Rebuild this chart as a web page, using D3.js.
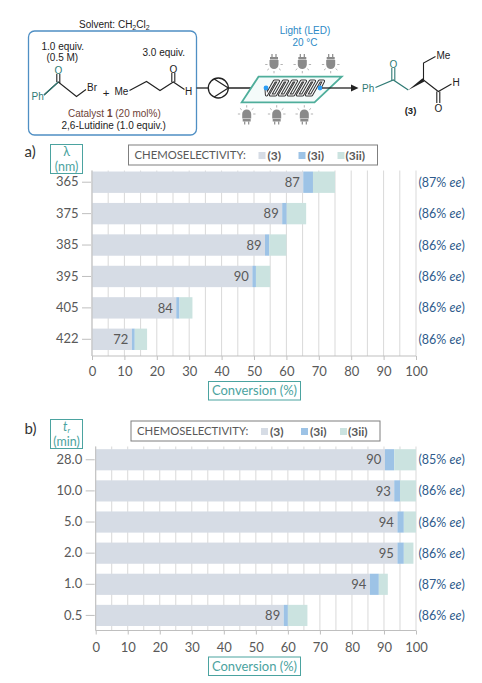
<!DOCTYPE html>
<html>
<head>
<meta charset="utf-8">
<script src="https://cdn.jsdelivr.net/npm/d3@7"></script>
<style>
  body { margin: 0; background: #fff; }
  svg { display: block; }
  .sch { font-family: "Liberation Sans", Arial, sans-serif; }
  .chart text { font-family: Lato, "Open Sans", sans-serif; }
</style>
</head>
<body>
<script>
// ---- datos ----
var lambdaCats = ["365", "375", "385", "395", "405", "422"];
var lambdaP3   = [65.2, 58.7, 53.4, 49.5, 26.0, 12.3];
var lambdaP3i  = [3.0, 1.4, 1.3, 1.1, 1.0, 0.9];
var lambdaP3ii = [6.8, 6.0, 5.3, 4.4, 4.0, 3.8];
var lambdaSel  = [87, 89, 89, 90, 84, 72];
var lambdaEe   = [87, 86, 86, 86, 86, 86];

var timeCats = ["28.0", "10.0", "5.0", "2.0", "1.0", "0.5"];
var timeP3   = [90.3, 93.2, 94.2, 94.2, 85.6, 58.7];
var timeP3i  = [2.9, 1.8, 2.0, 2.0, 2.8, 1.3];
var timeP3ii = [6.8, 5.0, 3.8, 3.0, 2.8, 6.1];
var timeSel  = [90, 93, 94, 95, 94, 89];
var timeEe   = [85, 86, 86, 86, 87, 86];

var convTicks = [0, 10, 20, 30, 40, 50, 60, 70, 80, 90, 100];
var gridTicks = d3.range(0, 101, 5);
var seriesKeys = ["p3", "p3i", "p3ii"];
var seriesNames = ["(3)", "(3i)", "(3ii)"];

var width = 482;
var height = 683;

var colores = {
    p3: "#d6dce5",
    p3i: "#9dc3e6",
    p3ii: "#cbe3e0"
};
var teal = "#4ba3a0";
var gris = "#595959";

var svg = d3.select("body")
    .append("svg")
    .attr("width", width)
    .attr("height", height);

// ---------------- esquema de reaccion ----------------
var sch = svg.append("g").attr("class", "sch");

function linea(g, pts, color, w) {
    g.append("path")
        .attr("d", d3.line()(pts))
        .attr("fill", "none")
        .attr("stroke", color || "#222")
        .attr("stroke-width", w || 1.1);
}

function texto(g, x, y, t, size, color, anchor) {
    return g.append("text")
        .attr("x", x).attr("y", y)
        .attr("font-size", size || 10)
        .attr("fill", color || "#222")
        .attr("text-anchor", anchor || "start")
        .text(t);
}

// caja de reactivos
sch.append("rect")
    .attr("x", 28.5).attr("y", 31)
    .attr("width", 168).attr("height", 104)
    .attr("rx", 6)
    .attr("fill", "none")
    .attr("stroke", "#4f8fc4")
    .attr("stroke-width", 1.3);

var solv = texto(sch, 79, 27.5, "Solvent: CH", 10);
solv.append("tspan").attr("font-size", 7).attr("dy", 2).text("2");
solv.append("tspan").attr("dy", -2).text("Cl");
solv.append("tspan").attr("font-size", 7).attr("dy", 2).text("2");

texto(sch, 41.5, 49.5, "1.0 equiv.", 10);
texto(sch, 46.5, 60.5, "(0.5 M)", 10);
texto(sch, 142.5, 55.5, "3.0 equiv.", 10);

// fenacil bromuro
var verdeOsc = "#2f7a74";
texto(sch, 31.5, 100, "Ph", 10, verdeOsc);
linea(sch, [[44, 95], [58.3, 82], [76.5, 96.5], [86, 89.5]]);
linea(sch, [[44, 95], [58.3, 82]], verdeOsc);
linea(sch, [[56.8, 82], [56.8, 74]], "#222");
linea(sch, [[59.8, 83], [59.8, 74]], "#222");
texto(sch, 58.3, 73.5, "O", 10, verdeOsc, "middle");
texto(sch, 87, 90.5, "Br", 10);
texto(sch, 106, 97, "+", 11.5, "#222", "middle");

// butanal
texto(sch, 114.5, 94.5, "Me", 10);
linea(sch, [[129.5, 90.5], [146.5, 81.5], [160, 90.5], [173.3, 82], [184.5, 89.5]]);
linea(sch, [[171.8, 82], [171.8, 73]]);
linea(sch, [[174.8, 82], [174.8, 73]]);
texto(sch, 173.3, 72.5, "O", 10, "#222", "middle");
texto(sch, 185, 94.5, "H", 10);

var cat = texto(sch, 68, 116.5, "Catalyst ", 10, "#6e4236");
cat.append("tspan").attr("font-weight", "bold").text("1");
cat.append("tspan").text(" (20 mol%)");
texto(sch, 61.5, 128.5, "2,6-Lutidine (1.0 equiv.)", 10);

// bomba
linea(sch, [[196.5, 88], [208.3, 88]], "#222", 1.3);
sch.append("circle")
    .attr("cx", 218.3).attr("cy", 88).attr("r", 10)
    .attr("fill", "#fff").attr("stroke", "#222").attr("stroke-width", 1.3);
linea(sch, [[214.2, 78.9], [228.3, 88], [214.2, 97.1]], "#222", 1.2);
linea(sch, [[228.3, 88], [266, 88]], "#222", 1.3);

// textos de luz
texto(sch, 305, 34, "Light (LED)", 10, "#2b8ac6", "middle");
texto(sch, 305, 45.5, "20 °C", 10, "#2b8ac6", "middle");

// reactor
sch.append("path")
    .attr("d", "M258.5,76.7 L341.7,76.7 L314.5,102.3 L241.7,102.3 Z")
    .attr("fill", "#f4fbfa")
    .attr("stroke", "#4fae9b")
    .attr("stroke-width", 1.8);

var serp = [[266, 88], [266.5, 95]];
for (var k = 0; k < 6; k++) {
    var bx = 266.5 + 9 * k;
    serp.push([bx + 8, 81]);
    serp.push([bx + 12, 81]);
    if (k < 5) {
        serp.push([bx + 4, 95]);
        serp.push([bx + 9, 95]);
    } else {
        serp.push([320, 88]);
    }
}
var serpD = d3.line()(serp);
sch.append("path").attr("d", serpD).attr("fill", "none")
    .attr("stroke", "#333").attr("stroke-width", 3.2).attr("stroke-linejoin", "round");
sch.append("path").attr("d", serpD).attr("fill", "none")
    .attr("stroke", "#fff").attr("stroke-width", 1.2).attr("stroke-linejoin", "round");
sch.append("circle").attr("cx", 266).attr("cy", 88).attr("r", 2.4).attr("fill", "#2a9df4");
sch.append("circle").attr("cx", 320).attr("cy", 88).attr("r", 2.4).attr("fill", "#2a9df4");

// flecha
linea(sch, [[322, 88], [352, 88]], "#222", 1.3);
sch.append("path").attr("d", "M351,84.5 L358.5,88 L351,91.5 Z").attr("fill", "#222");

// bombillas LED
function bombilla(cx, cy, invertida) {
    var g = sch.append("g")
        .attr("transform", "translate(" + cx + "," + cy + ")" + (invertida ? " scale(1,-1)" : ""));
    var c = "#8a8a8a";
    g.append("line").attr("x1", -2).attr("y1", -8).attr("x2", -2).attr("y2", -5).attr("stroke", c).attr("stroke-width", 1.2);
    g.append("line").attr("x1", 2).attr("y1", -8).attr("x2", 2).attr("y2", -5).attr("stroke", c).attr("stroke-width", 1.2);
    g.append("rect").attr("x", -4).attr("y", -5).attr("width", 8).attr("height", 2.5).attr("fill", c);
    g.append("path").attr("d", "M-4.5,-2 L4.5,-2 L4.5,2.5 A4.5,4.5 0 0 1 -4.5,2.5 Z").attr("fill", c);
    [0, 40, 90, 140, 180].forEach(function (a) {
        var r = a * Math.PI / 180;
        g.append("line")
            .attr("x1", Math.cos(r) * 6.5).attr("y1", 2.5 + Math.sin(r) * 6.5)
            .attr("x2", Math.cos(r) * 8.8).attr("y2", 2.5 + Math.sin(r) * 8.8)
            .attr("stroke", "#aaa").attr("stroke-width", 0.9);
    });
}
[274, 302.3, 330.7].forEach(function (x) { bombilla(x, 62, false); });
[246.7, 276.7, 304.3].forEach(function (x) { bombilla(x, 116.5, true); });

// producto (3)
texto(sch, 362, 92, "Ph", 10, verdeOsc);
linea(sch, [[375.5, 87.5], [393.3, 80], [408.3, 90]], verdeOsc, 1.2);
linea(sch, [[391.8, 80.5], [391.8, 68]], verdeOsc, 1.1);
linea(sch, [[394.8, 80.5], [394.8, 68]], verdeOsc, 1.1);
texto(sch, 393.3, 68, "O", 10, verdeOsc, "middle");
sch.append("path").attr("d", "M408.3,90 L422.6,78.2 L424.4,81.6 Z").attr("fill", "#222");
linea(sch, [[423.5, 80], [423.5, 63], [435.5, 56.5]]);
texto(sch, 436.5, 58.5, "Me", 10);
linea(sch, [[423.5, 80], [438.3, 91.5], [451.5, 84]]);
texto(sch, 452.5, 86, "H", 10);
linea(sch, [[436.8, 91.5], [436.8, 103]]);
linea(sch, [[439.8, 91.5], [439.8, 103]]);
texto(sch, 438.3, 111.5, "O", 10, "#222", "middle");
texto(sch, 410.5, 113.5, "(3)", 9.5, "#222", "middle").attr("font-weight", "bold");

// ---------------- graficos de barras ----------------
function panel(cfg) {
    var g = svg.append("g").attr("class", "chart");

    var datos = cfg.cats.map(function (c, i) {
        return { cat: c, p3: cfg.p3[i], p3i: cfg.p3i[i], p3ii: cfg.p3ii[i], sel: cfg.sel[i], ee: cfg.ee[i] };
    });

    var escalaX = d3.scaleLinear().domain([0, 100]).range([cfg.x0, cfg.x1]);
    var escalaY = d3.scaleBand().domain(cfg.cats).range(cfg.band).paddingInner(0.32).paddingOuter(0.16);

    // rejilla cada 5
    g.selectAll("line.grid")
        .data(gridTicks)
        .join("line")
        .attr("class", "grid")
        .attr("x1", function (d) { return escalaX(d); })
        .attr("x2", function (d) { return escalaX(d); })
        .attr("y1", cfg.gridTop)
        .attr("y2", cfg.axisY)
        .attr("stroke", "#d9d9d9")
        .attr("stroke-width", 1);

    var pila = d3.stack().keys(seriesKeys)(datos);

    g.selectAll("g.serie")
        .data(pila)
        .join("g")
        .attr("class", "serie")
        .attr("fill", function (d) { return colores[d.key]; })
        .selectAll("rect")
        .data(function (d) { return d; })
        .join("rect")
        .attr("x", function (d) { return escalaX(d[0]); })
        .attr("y", function (d) { return escalaY(d.data.cat); })
        .attr("width", function (d) { return escalaX(d[1]) - escalaX(d[0]); })
        .attr("height", escalaY.bandwidth());

    // etiquetas de selectividad
    g.selectAll("text.sel")
        .data(datos)
        .join("text")
        .attr("class", "sel")
        .attr("x", function (d) { return escalaX(d.p3) - 3.5; })
        .attr("y", function (d) { return escalaY(d.cat) + escalaY.bandwidth() / 2; })
        .attr("dy", "0.36em")
        .attr("text-anchor", "end")
        .attr("font-size", 13)
        .attr("fill", gris)
        .text(function (d) { return d.sel; });

    // ee
    var ee = g.selectAll("text.ee")
        .data(datos)
        .join("text")
        .attr("class", "ee")
        .attr("x", 418.5)
        .attr("y", function (d) { return escalaY(d.cat) + escalaY.bandwidth() / 2; })
        .attr("dy", "0.36em")
        .attr("font-size", 12.5)
        .attr("fill", "#2f5b8c");
    ee.append("tspan").text(function (d) { return "(" + d.ee + "% "; });
    ee.append("tspan").attr("font-style", "italic").text("ee");
    ee.append("tspan").text(")");

    // ejes
    var ejeX = d3.axisBottom(escalaX).tickValues(convTicks).tickSize(4).tickPadding(cfg.xPad);
    var gx = g.append("g")
        .attr("transform", "translate(0," + cfg.axisY + ")")
        .call(ejeX);
    gx.select(".domain").attr("stroke", "#bfbfbf").attr("d", "M" + cfg.x0 + ",0H" + cfg.x1);
    gx.selectAll(".tick line").attr("stroke", "#bfbfbf");
    gx.selectAll(".tick text").attr("font-size", 13).attr("fill", gris);

    var ejeY = d3.axisLeft(escalaY).tickSize(10).tickPadding(3.5);
    var gy = g.append("g")
        .attr("transform", "translate(" + cfg.x0 + ",0)")
        .call(ejeY);
    gy.select(".domain").remove();
    gy.selectAll(".tick line").attr("stroke", "#bfbfbf").attr("x2", -10).attr("x1", -1);
    gy.selectAll(".tick text").attr("font-size", 13).attr("fill", gris);
    g.append("line")
        .attr("x1", cfg.x0).attr("x2", cfg.x0)
        .attr("y1", cfg.gridTop).attr("y2", cfg.axisY)
        .attr("stroke", "#bfbfbf");

    // letra del panel
    g.append("text")
        .attr("x", 24.5).attr("y", cfg.letterY)
        .attr("font-size", 15).attr("fill", "#333")
        .text(cfg.letter);

    // caja de la variable
    g.append("rect")
        .attr("x", 50.5).attr("y", cfg.varBox)
        .attr("width", 32).attr("height", 29)
        .attr("fill", "#fff").attr("stroke", teal).attr("stroke-width", 1);
    var l1 = g.append("text")
        .attr("x", 66.5).attr("y", cfg.varBox + 11.5)
        .attr("text-anchor", "middle").attr("font-size", 12.5).attr("fill", teal);
    if (cfg.sub) {
        l1.append("tspan").attr("font-style", "italic").text(cfg.varName);
        l1.append("tspan").attr("font-style", "italic").attr("font-size", 7.5).attr("dy", 1.5).text(cfg.sub);
    } else {
        l1.text(cfg.varName);
    }
    g.append("text")
        .attr("x", 66.5).attr("y", cfg.varBox + 26)
        .attr("text-anchor", "middle").attr("font-size", 12.5).attr("fill", teal)
        .text(cfg.unit);

    // leyenda
    var lx = cfg.legX;
    g.append("rect")
        .attr("x", lx).attr("y", cfg.legY)
        .attr("width", 249).attr("height", 20)
        .attr("fill", "#fff").attr("stroke", "#7f7f7f").attr("stroke-width", 1);
    g.append("text")
        .attr("x", lx + 6).attr("y", cfg.legY + 14)
        .attr("font-size", 11.3).attr("fill", gris)
        .text("CHEMOSELECTIVITY:");
    var offs = [[130, 139], [170, 179], [209, 217]];
    seriesKeys.forEach(function (k, i) {
        g.append("rect")
            .attr("x", lx + offs[i][0]).attr("y", cfg.legY + 7)
            .attr("width", 7).attr("height", 7)
            .attr("fill", colores[k]);
        g.append("text")
            .attr("x", lx + offs[i][1]).attr("y", cfg.legY + 14.5)
            .attr("font-size", 12).attr("font-weight", "bold").attr("fill", gris)
            .text(seriesNames[i]);
    });

    // titulo del eje X
    g.append("rect")
        .attr("x", 208.5).attr("y", cfg.convY)
        .attr("width", 92).attr("height", 18.5)
        .attr("fill", "#fff").attr("stroke", teal).attr("stroke-width", 1);
    g.append("text")
        .attr("x", 254.5).attr("y", cfg.convY + 13.5)
        .attr("text-anchor", "middle").attr("font-size", 13).attr("fill", teal)
        .text("Conversion (%)");
}

panel({
    cats: lambdaCats, p3: lambdaP3, p3i: lambdaP3i, p3ii: lambdaP3ii, sel: lambdaSel, ee: lambdaEe,
    x0: 92, x1: 416, band: [166.5, 355], gridTop: 170.5, axisY: 356, xPad: 6.5,
    letter: "a)", letterY: 157, varBox: 144.5, varName: "λ", unit: "(nm)",
    legX: 128.5, legY: 145, convY: 381.5
});

panel({
    cats: timeCats, p3: timeP3, p3i: timeP3i, p3ii: timeP3ii, sel: timeSel, ee: timeEe,
    x0: 95.7, x1: 416, band: [444.2, 631], gridTop: 446.5, axisY: 630.5, xPad: 8.5,
    letter: "b)", letterY: 433.5, varBox: 419.5, varName: "t", sub: "r", unit: "(min)",
    legX: 131, legY: 421, convY: 657
});
</script>
</body>
</html>
